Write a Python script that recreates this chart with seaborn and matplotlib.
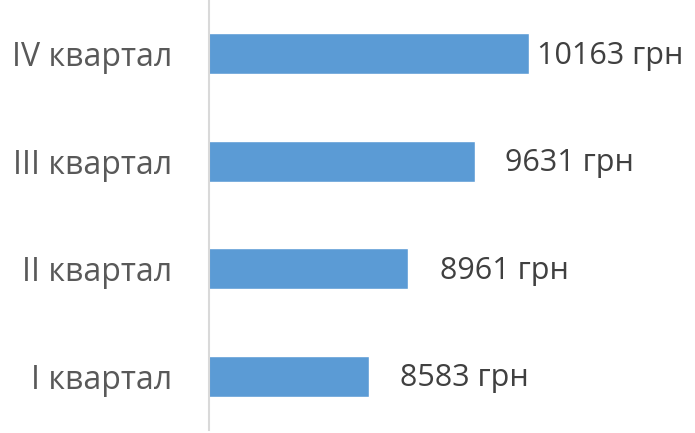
import matplotlib

matplotlib.use("Agg")

import matplotlib.pyplot as plt
import pandas as pd
import seaborn as sns

quarters = ["IV квартал", "III квартал", "II квартал", "I квартал"]
revenue = [10163, 9631, 8961, 8583]
value_labels = ["10163 грн", "9631 грн", "8961 грн", "8583 грн"]
label_gap_px = [8, 30, 32, 31]

df = pd.DataFrame({"quarter": quarters, "revenue": revenue})

sns.set_theme(style="white")
plt.rcParams["font.family"] = ["Open Sans", "DejaVu Sans"]

fig = plt.figure(figsize=(6.95, 4.33), dpi=100)
ax = fig.add_axes([209 / 695, 3 / 433, 486 / 695, 430 / 433])

sns.barplot(data=df, x="revenue", y="quarter", orient="h", color="#5B9BD5",
            saturation=1, width=0.38, ax=ax)

ax.set_xlim(7000, 11800)
ax.set_ylim(3.5, -0.5)
ax.set_xlabel("")
ax.set_ylabel("")
ax.set_xticks([])
ax.tick_params(axis="y", length=0, pad=26.5, labelsize=23, labelcolor="#595959")

for side in ["top", "right", "bottom"]:
    ax.spines[side].set_visible(False)
ax.spines["left"].set_color("#D9D9D9")
ax.spines["left"].set_linewidth(1.5)

for i, (val, lab, gap) in enumerate(zip(revenue, value_labels, label_gap_px)):
    ax.annotate(lab, xy=(val, i), xytext=(gap, -2), textcoords="offset pixels",
                ha="left", va="center", fontsize=22, color="#404040")

fig.savefig("out.png", dpi=100)
plt.close(fig)
